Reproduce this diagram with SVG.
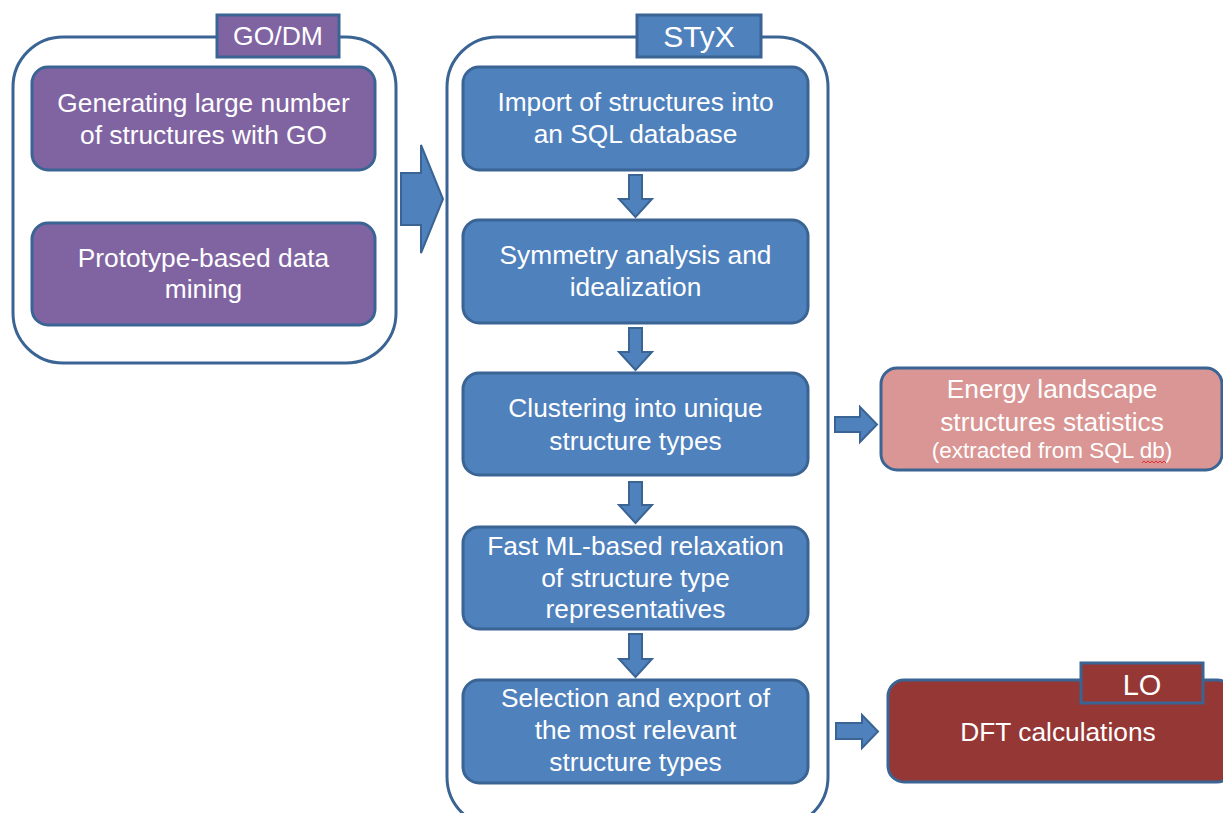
<svg xmlns="http://www.w3.org/2000/svg" width="1223" height="813" viewBox="0 0 1223 813">
  <style>
    .frame { fill: #ffffff; stroke: #3a6493; stroke-width: 3; }
    .purple { fill: #8064a2; stroke: #3a6493; stroke-width: 3; }
    .blue { fill: #4f81bd; stroke: #3a6493; stroke-width: 3; }
    .pink { fill: #d99694; stroke: #3a6493; stroke-width: 3; }
    .red { fill: #953735; stroke: #3a6493; stroke-width: 3; }
    .arrow { fill: #4f81bd; stroke: #3a6493; stroke-width: 2; stroke-linejoin: miter; }
    text { font-family: "Liberation Sans", Arial, sans-serif; fill: #ffffff; text-anchor: middle; font-size: 26.3px; }
    .tag { font-size: 26.5px; }
    .tag-lg { font-size: 30px; }
    .small { font-size: 22.5px; }
  </style>

  <rect width="1223" height="813" fill="#ffffff"/>

  <!-- GO/DM container -->
  <g id="godm">
    <rect class="frame" x="13" y="37" width="383" height="326" rx="50"/>
    <rect class="purple" x="217" y="15" width="122" height="42"/>
    <text class="tag" x="278" y="45">GO/DM</text>
  </g>
  <g id="go-generate">
    <rect class="purple" x="32" y="67" width="343" height="103" rx="16"/>
    <text x="203.5" y="112">Generating large number</text>
    <text x="203.5" y="144">of structures with GO</text>
  </g>
  <g id="data-mining">
    <rect class="purple" x="32" y="223" width="343" height="102" rx="16"/>
    <text x="203.5" y="267">Prototype-based data</text>
    <text x="203.5" y="298">mining</text>
  </g>

  <!-- STyX container -->
  <g id="styx">
    <rect class="frame" x="447" y="37" width="381" height="790" rx="50"/>
    <rect class="blue" x="637" y="15" width="124" height="42"/>
    <text class="tag-lg" x="699" y="47">STyX</text>
  </g>
  <g id="import">
    <rect class="blue" x="463" y="67" width="345" height="103" rx="16"/>
    <text x="635.5" y="111">Import of structures into</text>
    <text x="635.5" y="143">an SQL database</text>
  </g>
  <g id="symmetry">
    <rect class="blue" x="463" y="220" width="345" height="103" rx="16"/>
    <text x="635.5" y="264">Symmetry analysis and</text>
    <text x="635.5" y="296">idealization</text>
  </g>
  <g id="clustering">
    <rect class="blue" x="463" y="373" width="345" height="102" rx="16"/>
    <text x="635.5" y="417">Clustering into unique</text>
    <text x="635.5" y="450">structure types</text>
  </g>
  <g id="relaxation">
    <rect class="blue" x="463" y="527" width="345" height="102" rx="16"/>
    <text x="635.5" y="555">Fast ML-based relaxation</text>
    <text x="635.5" y="587">of structure type</text>
    <text x="635.5" y="618">representatives</text>
  </g>
  <g id="selection">
    <rect class="blue" x="463" y="680" width="345" height="103" rx="16"/>
    <text x="635.5" y="707">Selection and export of</text>
    <text x="635.5" y="739">the most relevant</text>
    <text x="635.5" y="771">structure types</text>
  </g>

  <!-- Energy landscape output -->
  <g id="energy">
    <rect class="pink" x="881" y="368" width="341" height="102" rx="16"/>
    <text x="1052" y="398">Energy landscape</text>
    <text x="1052" y="431">structures statistics</text>
    <text class="small" x="1052" y="458">(extracted from SQL db)</text>
    <path d="M1142 463 l2 -2 l2 2 l2 -2 l2 2 l2 -2 l2 2 l2 -2 l2 2 l2 -2 l2 2 l2 -2 l2 2" fill="none" stroke="#e03030" stroke-width="1"/>
  </g>

  <!-- DFT / LO -->
  <g id="dft">
    <rect class="red" x="888" y="680" width="345" height="102" rx="16"/>
    <rect class="red" x="1081" y="663" width="122" height="40"/>
    <text class="tag" x="1142" y="695" style="font-size:29px">LO</text>
    <text x="1058" y="741">DFT calculations</text>
  </g>

  <!-- Connectors -->
  <g id="connectors">
    <path class="arrow" d="M401 173 L421 173 L421 145 L443 199 L421 253 L421 225 L401 225 Z"/>
    <path class="arrow" d="M629 175 L642 175 L642 199 L652 199 L635.5 217 L619 199 L629 199 Z"/>
    <path class="arrow" d="M629 328 L642 328 L642 352 L652 352 L635.5 370 L619 352 L629 352 Z"/>
    <path class="arrow" d="M629 482 L642 482 L642 505 L652 505 L635.5 523 L619 505 L629 505 Z"/>
    <path class="arrow" d="M629 634 L642 634 L642 659 L652 659 L635.5 677 L619 659 L629 659 Z"/>
    <path class="arrow" d="M835 417 L860 417 L860 407 L877 424.5 L860 442 L860 432 L835 432 Z"/>
    <path class="arrow" d="M836 723 L862 723 L862 715 L878 731.5 L862 748 L862 739 L836 739 Z"/>
  </g>
</svg>
